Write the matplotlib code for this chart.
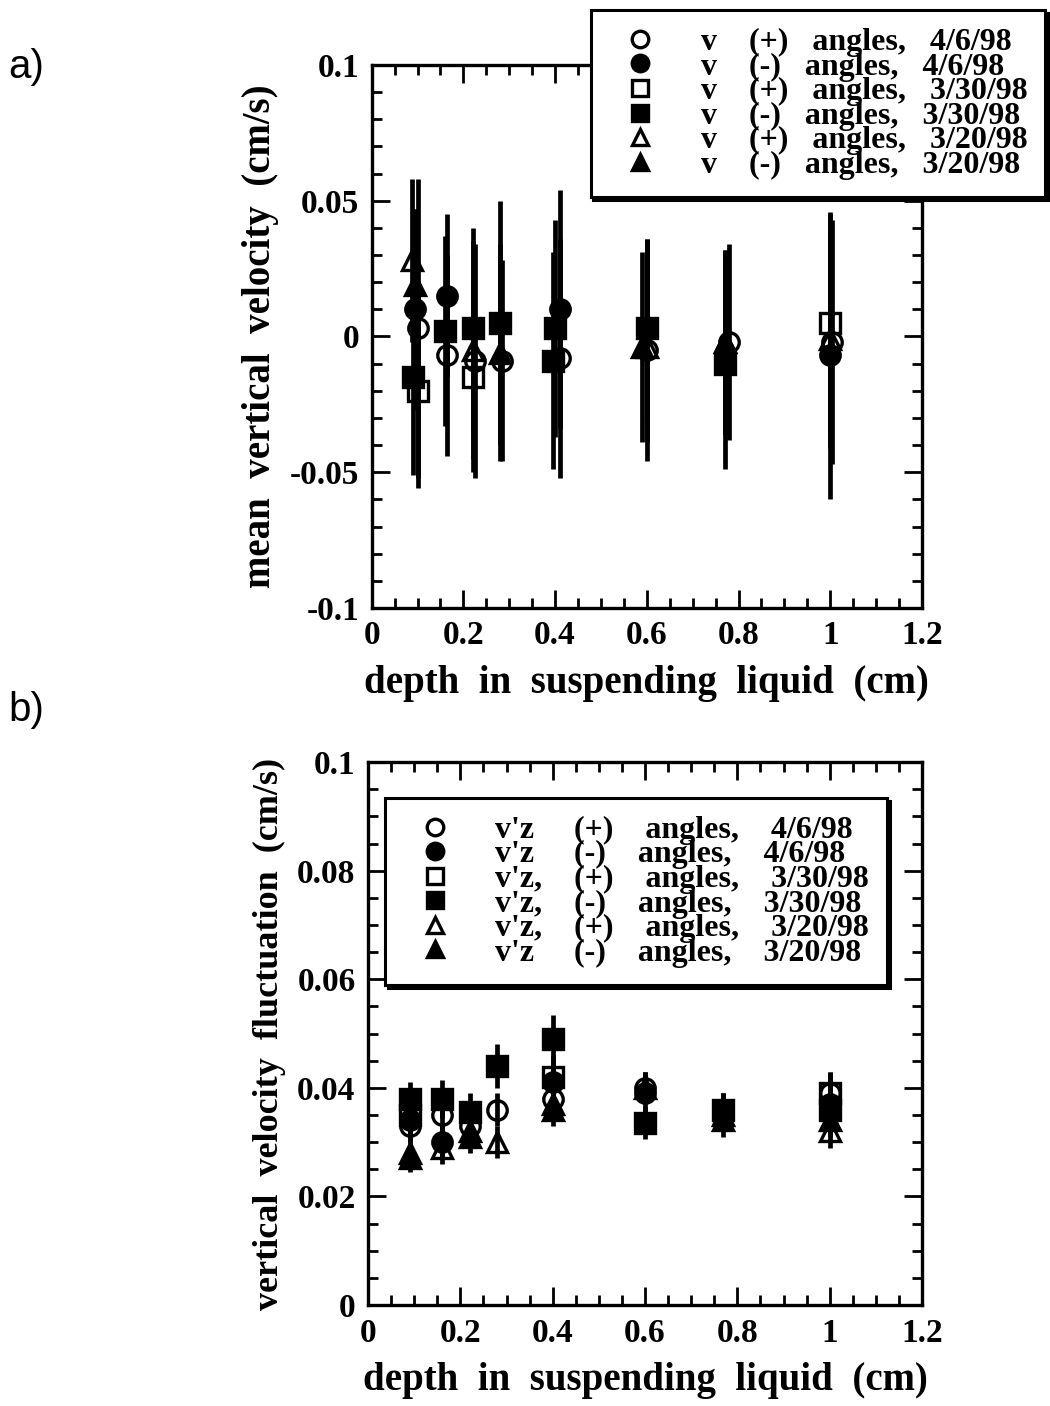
"""Mean vertical velocity and its fluctuation vs. depth (two stacked panels)."""
import matplotlib
matplotlib.use('Agg')
import matplotlib.pyplot as plt
from matplotlib.ticker import MultipleLocator, FuncFormatter

plt.rcParams['font.family'] = ['Liberation Serif', 'DejaVu Serif']
plt.rcParams['font.weight'] = 'bold'
plt.rcParams['axes.labelweight'] = 'bold'
plt.rcParams['axes.unicode_minus'] = False

# series order: (+) 4/6/98, (-) 4/6/98, (+) 3/30/98, (-) 3/30/98, (+) 3/20/98, (-) 3/20/98
markers = ['o', 'o', 's', 's', '^', '^']
filled = [False, True, False, True, False, True]
signs = ['(+)', '(-)', '(+)', '(-)', '(+)', '(-)']
dates = ['4/6/98', '4/6/98', '3/30/98', '3/30/98', '3/20/98', '3/20/98']

# panel a: mean vertical velocity (cm/s)
a_depth = [
    [0.10, 0.165, 0.225, 0.285, 0.41, 0.60, 0.78, 1.005],
    [0.095, 0.165, 0.41, 1.0],
    [0.10, 0.22, 1.0],
    [0.09, 0.16, 0.22, 0.28, 0.40, 0.395, 0.60, 0.77],
    [0.088, 0.22, 0.60, 0.77, 1.0],
    [0.095, 0.28, 0.59, 0.77],
]
a_vel = [
    [0.003, -0.007, -0.009, -0.009, -0.008, -0.005, -0.002, -0.002],
    [0.010, 0.015, 0.010, -0.007],
    [-0.020, -0.015, 0.005],
    [-0.015, 0.002, 0.003, 0.005, 0.003, -0.009, 0.003, -0.010],
    [0.028, -0.005, -0.004, -0.002, -0.001],
    [0.019, -0.006, -0.004, -0.002],
]
a_err = [
    [0.055, 0.037, 0.043, 0.037, 0.044, 0.041, 0.036, 0.045],
    [0.037, 0.030, 0.044, 0.053],
    [0.036, 0.035, 0.040],
    [0.036, 0.035, 0.037, 0.045, 0.040, 0.040, 0.033, 0.039],
    [0.030, 0.040, 0.035, 0.034, 0.040],
    [0.028, 0.040, 0.035, 0.034],
]

# panel b: vertical velocity fluctuation v'z (cm/s)
b_depth = [
    [0.09, 0.16, 0.22, 0.28, 0.40, 0.60, 0.77, 1.0],
    [0.09, 0.16, 0.40, 0.60, 0.77, 1.0],
    [0.09, 0.40, 1.0],
    [0.09, 0.16, 0.22, 0.28, 0.40, 0.60, 0.77, 1.0],
    [0.09, 0.16, 0.22, 0.28, 0.40, 0.60, 0.77, 1.0],
    [0.09, 0.22, 0.40, 0.77, 1.0],
]
b_fluct = [
    [0.033, 0.035, 0.033, 0.036, 0.038, 0.040, 0.036, 0.039],
    [0.034, 0.030, 0.041, 0.039, 0.036, 0.037],
    [0.035, 0.042, 0.039],
    [0.038, 0.038, 0.0355, 0.044, 0.049, 0.0335, 0.036, 0.036],
    [0.028, 0.029, 0.032, 0.030, 0.037, 0.040, 0.035, 0.032],
    [0.027, 0.031, 0.036, 0.034, 0.034],
]
b_err = [
    [0.003, 0.004, 0.003, 0.003, 0.003, 0.003, 0.003, 0.004],
    [0.003, 0.003, 0.004, 0.004, 0.003, 0.003],
    [0.003, 0.004, 0.004],
    [0.003, 0.0035, 0.0035, 0.004, 0.0045, 0.003, 0.003, 0.003],
    [0.003, 0.003, 0.003, 0.003, 0.003, 0.003, 0.003, 0.003],
    [0.0025, 0.003, 0.003, 0.003, 0.003],
]

a_labels = ['v    %s   angles,   %s' % (s, d) for s, d in zip(signs, dates)]
b_labels = ["v'z     (+)    angles,    4/6/98",
            "v'z     (-)    angles,    4/6/98",
            "v'z,    (+)    angles,    3/30/98",
            "v'z,    (-)    angles,    3/30/98",
            "v'z,    (+)    angles,    3/20/98",
            "v'z     (-)    angles,    3/20/98"]


def draw_series(ax, depths, values, errs, labels):
    for xs, ys, es in zip(depths, values, errs):
        ax.errorbar(xs, ys, yerr=es, fmt='none', ecolor='black',
                    elinewidth=3.4, capsize=0, zorder=2)
    for xs, ys, m, f, lab in zip(depths, values, markers, filled, labels):
        ax.plot(xs, ys, linestyle='none', marker=m, markersize=14,
                markerfacecolor='black' if f else 'none',
                markeredgecolor='black', markeredgewidth=2.4,
                label=lab, zorder=3)


def style_axes(ax, ymaj, ymin):
    ax.set_xlim(0, 1.2)
    ax.xaxis.set_major_locator(MultipleLocator(0.2))
    ax.xaxis.set_minor_locator(MultipleLocator(0.05))
    ax.yaxis.set_major_locator(MultipleLocator(ymaj))
    ax.yaxis.set_minor_locator(MultipleLocator(ymin))
    fmt = FuncFormatter(lambda v, p: '%g' % round(v, 4))
    ax.xaxis.set_major_formatter(fmt)
    ax.yaxis.set_major_formatter(fmt)
    ax.tick_params(which='both', direction='in', top=True, right=True,
                   width=2, labelsize=24, pad=9)
    ax.tick_params(which='major', length=13)
    ax.tick_params(which='minor', length=7)
    for sp in ax.spines.values():
        sp.set_linewidth(2.4)
    ax.set_xlabel('depth  in  suspending  liquid  (cm)', fontsize=28, labelpad=10)


def legend_for(ax, anchor, loc):
    leg = ax.legend(loc=loc, bbox_to_anchor=anchor, fancybox=False,
                    edgecolor='black', framealpha=1,
                    shadow={'color': 'black', 'alpha': 1},
                    labelspacing=-0.15, handlelength=2.0, handletextpad=0.9,
                    borderpad=0.55, borderaxespad=0, markerscale=0.85,
                    prop={'size': 23, 'weight': 'bold'})
    leg.get_frame().set_linewidth(2.2)
    return leg


fig = plt.figure(figsize=(10.5, 14.06), dpi=100)
ax_a = fig.add_axes([0.354, 0.5676, 0.524, 0.3862])
ax_b = fig.add_axes([0.3505, 0.0718, 0.5276, 0.3862])

draw_series(ax_a, a_depth, a_vel, a_err, a_labels)
style_axes(ax_a, 0.05, 0.01)
ax_a.set_ylim(-0.1, 0.1)
ax_a.set_ylabel('mean  vertical  velocity  (cm/s)', fontsize=28, labelpad=8)
legend_for(ax_a, (1.224, 1.101), 'upper right')

draw_series(ax_b, b_depth, b_fluct, b_err, b_labels)
style_axes(ax_b, 0.02, 0.005)
ax_b.set_ylim(0, 0.1)
ax_b.set_ylabel('vertical  velocity  fluctuation  (cm/s)', fontsize=26, labelpad=8)
legend_for(ax_b, (0.031, 0.934), 'upper left')

fig.text(0.008, 0.952, 'a)', family='Liberation Sans', fontweight='normal',
         fontsize=29, va='center', ha='left')
fig.text(0.008, 0.495, 'b)', family='Liberation Sans', fontweight='normal',
         fontsize=29, va='center', ha='left')

fig.savefig('out.png', dpi=100)
